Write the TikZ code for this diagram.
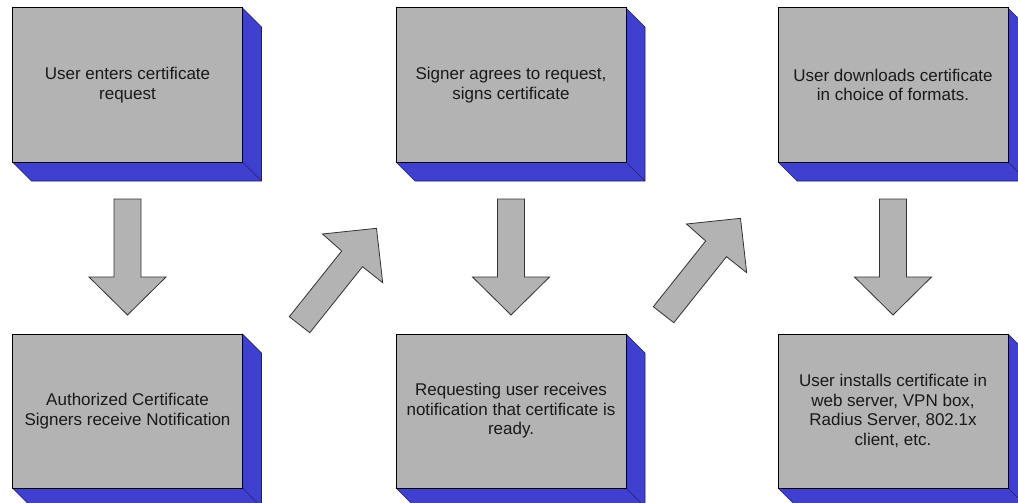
\documentclass[tikz,border=0pt]{standalone}
\usepackage{fontspec}
\setmainfont{Liberation Sans}
\definecolor{boxgray}{RGB}{179,179,179}
\definecolor{sideblue}{RGB}{64,64,208}
\definecolor{edgeblue}{RGB}{30,30,110}
\tikzset{
  front/.style={draw=black, line width=1pt, fill=boxgray, minimum width=230pt, minimum height=154pt,
    inner sep=0pt, outer sep=0pt, align=center, font=\fontsize{17}{19.4}\selectfont, text=black!90},
  side/.style={fill=sideblue, draw=edgeblue, line width=0.6pt, line join=round},
  arrowshape/.style={fill=boxgray, draw=black!80, line width=0.8pt, line join=miter},
  downarrow/.pic={\path[arrowshape] (-13.5,0) -- (13.5,0) -- (13.5,78) -- (38.5,78) -- (0,116) -- (-38.5,78) -- (-13.5,78) -- cycle;},
  diagarrow/.pic={\path[arrowshape] (0,0) -- (20.5,16) -- (73.2,-50) -- (93.4,-34) -- (87.2,-88.4) -- (33.2,-82.7) -- (52.4,-65.7) -- cycle;}
}
\begin{document}
\begin{tikzpicture}[x=1pt,y=-1pt]
\useasboundingbox (0,0) rectangle (1018,503);
\clip (0,0) rectangle (1018,503);
\fill[white] (0,0) rectangle (1018,503);
% boxes
\foreach \n/\x/\y/\t in {
  b1/127.5/85/{User enters certificate\\request},
  b2/511/85/{Signer agrees to request,\\signs certificate},
  b3/893/85/{User downloads certificate\\in choice of formats.},
  a1/127.5/411/{Authorized Certificate\\Signers receive Notification},
  a2/511/411/{Requesting user receives\\notification that certificate is\\ready.},
  a3/893/411/{User installs certificate in\\web server, VPN box,\\Radius Server, 802.1x\\client, etc.}}{
  \path[side] (\x,\y) ++(115,-77) -- ++(19,19) -- ++(0,154) -- ++(-230,0) -- ++(-19,-19) -- ++(230,0) -- cycle;
  \path[side] (\x,\y) ++(115,77) -- ++(19,19);
  \node[front] (\n) at (\x,\y) {\t};
}
% arrows
\pic at (127.5,199) {downarrow};
\pic at (511,199) {downarrow};
\pic at (893,199) {downarrow};
\pic at (289.3,316.7) {diagarrow};
\pic at (653.3,306.7) {diagarrow};
\end{tikzpicture}
\end{document}
